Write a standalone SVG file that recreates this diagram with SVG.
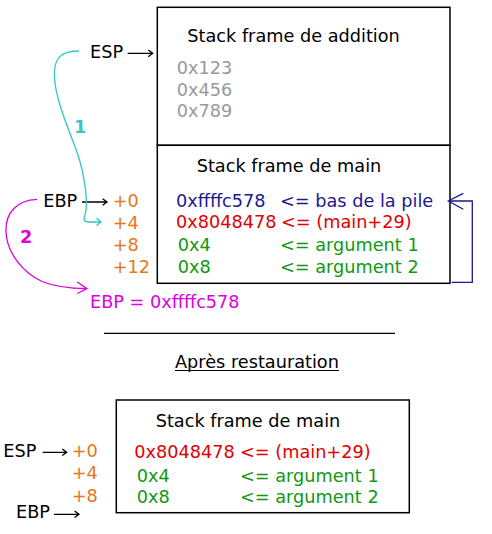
<svg xmlns="http://www.w3.org/2000/svg" width="492" height="534" viewBox="0 0 492 534">
<style>
text{font-family:"DejaVu Sans","Noto Sans",sans-serif;font-size:17.7px}
.k{fill:#000}
.g{fill:#999}
.b{fill:#1a1a8c}
.r{fill:#e00000}
.gr{fill:#119911}
.o{fill:#e67817}
.m{fill:#dd00dd}
.c{fill:#33c6cc}
.bd{font-weight:bold}
.box{fill:#fff;stroke:#000;stroke-width:1.5}
.ln{fill:none;stroke-width:1.3}
</style>
<rect width="492" height="534" fill="#fff"/>
<g id="frame-addition">
<rect class="box" x="157.3" y="7.3" width="292.7" height="138"/>
<text class="k" x="187.3" y="42.3">Stack frame de addition</text>
<text class="g" x="176.7" y="74">0x123</text>
<text class="g" x="176.7" y="95.7">0x456</text>
<text class="g" x="176.7" y="117.3">0x789</text>
</g>
<g id="frame-main">
<rect class="box" x="157.3" y="145.3" width="292.7" height="138"/>
<text class="k" x="196.7" y="172.3">Stack frame de main</text>
<text class="b" x="176" y="206.7">0xffffc578</text>
<text class="b" x="280" y="206.7">&lt;= bas de la pile</text>
<text class="r" x="176" y="228.3">0x8048478</text>
<text class="r" x="281" y="228.3">&lt;= (main+29)</text>
<text class="gr" x="177.7" y="251">0x4</text>
<text class="gr" x="280" y="251">&lt;= argument 1</text>
<text class="gr" x="177.7" y="272.7">0x8</text>
<text class="gr" x="280" y="272.7">&lt;= argument 2</text>
</g>
<g id="labels-top">
<text class="k" x="90" y="57.7">ESP</text>
<text class="k" x="43.3" y="206.7">EBP</text>
<text class="o" x="112.7" y="207">+0</text>
<text class="o" x="112.7" y="229">+4</text>
<text class="o" x="112.7" y="251">+8</text>
<text class="o" x="112.7" y="273">+12</text>
<text class="c bd" x="74" y="132.7">1</text>
<text class="m bd" x="20" y="242.7">2</text>
<text class="m" x="90" y="308.3">EBP = 0xffffc578</text>
</g>
<g id="separator">
<line x1="104" y1="333.3" x2="395" y2="333.3" stroke="#000" stroke-width="1.3"/>
<text class="k" x="175" y="367.7">Après restauration</text>
<line x1="175" y1="370.5" x2="339" y2="370.5" stroke="#000" stroke-width="1.2"/>
</g>
<g id="frame-main-after">
<rect class="box" x="116.3" y="400" width="293" height="112.7"/>
<text class="k" x="155.7" y="427.3">Stack frame de main</text>
<text class="r" x="134.3" y="458.3">0x8048478</text>
<text class="r" x="240" y="458.3">&lt;= (main+29)</text>
<text class="gr" x="136.7" y="481.7">0x4</text>
<text class="gr" x="240" y="481.7">&lt;= argument 1</text>
<text class="gr" x="136.7" y="503.3">0x8</text>
<text class="gr" x="240" y="503.3">&lt;= argument 2</text>
</g>
<g id="labels-bottom">
<text class="k" x="3.3" y="456.7">ESP</text>
<text class="o" x="71.7" y="456.7">+0</text>
<text class="o" x="71.7" y="479.3">+4</text>
<text class="o" x="71.7" y="501.7">+8</text>
<text class="k" x="16" y="518.3">EBP</text>
</g>
<g id="connectors">
<g stroke="#000" class="ln">
<path d="M127.7,53.3 H152.7 M148.3,50 L152.7,53.3 L148.3,56.7"/>
<path d="M82,202 H107 M102.6,198.7 L107,202 L102.6,205.3"/>
<path d="M42.7,452.3 H66.7 M62.3,449 L66.7,452.3 L62.3,455.6"/>
<path d="M54,514.3 H79 M74.6,511 L79,514.3 L74.6,517.6"/>
</g>
<path class="ln" stroke="#1a1a8c" d="M451.7,282.3 H472.3 V201 H448.3 M463.3,193.3 L448.3,201 L463.3,209.3"/>
<path class="ln" stroke="#33c6cc" d="M79,51 C62,51 53,57 54.5,78 C56,102 70,132 78,155 C86,180 88,205 85,215 C83,220 84,222 89,222 L101,222 M96.5,218.3 L101,222 L96.5,225.5"/>
<path class="ln" stroke="#dd00dd" d="M37,199.3 C17,200 5,213 6,232 C7,254 24,273 42,281.5 C58,288 74,288.5 87,288.7 M77.3,282 L87,288.7 L77.3,293.5"/>
</g>
</svg>
